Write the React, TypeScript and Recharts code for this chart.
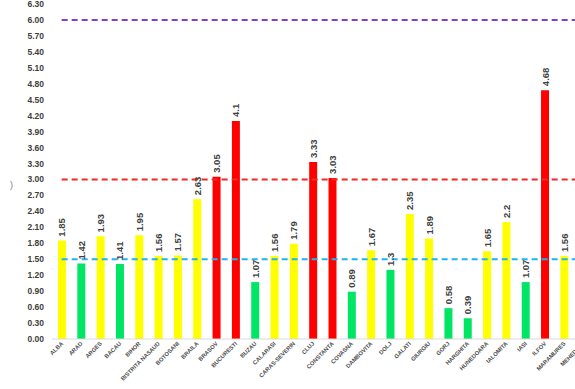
import React from "react";
import { ComposedChart, Bar, Line, XAxis, YAxis, Cell, LabelList } from "recharts";

const categories = [
  "ALBA", "ARAD", "ARGES", "BACAU", "BIHOR", "BISTRITA NASAUD", "BOTOSANI", "BRAILA",
  "BRASOV", "BUCURESTI", "BUZAU", "CALARASI", "CARAS-SEVERIN", "CLUJ", "CONSTANTA",
  "COVASNA", "DAMBOVITA", "DOLJ", "GALATI", "GIURGIU", "GORJ", "HARGHITA", "HUNEDOARA",
  "IALOMITA", "IASI", "ILFOV", "MARAMURES", "MEHEDINTI",
];
const values = [
  1.85, 1.42, 1.93, 1.41, 1.95, 1.56, 1.57, 2.63, 3.05, 4.1, 1.07, 1.56, 1.79, 3.33, 3.03,
  0.89, 1.67, 1.3, 2.35, 1.89, 0.58, 0.39, 1.65, 2.2, 1.07, 4.68, 1.56, 1.2,
];
const yTicks = [0, 0.3, 0.6, 0.9, 1.2, 1.5, 1.8, 2.1, 2.4, 2.7, 3.0, 3.3, 3.6, 3.9, 4.2, 4.5, 4.8, 5.1, 5.4, 5.7, 6.0, 6.3];
const thresholdLow = 1.5;
const thresholdHigh = 3.0;
const thresholdTop = 6.0;

const data = categories.map((c, i) => ({
  name: c,
  value: values[i],
  low: thresholdLow,
  high: thresholdHigh,
  top: thresholdTop,
}));

const colorFor = (v: number) => (v >= thresholdHigh ? "#FF0000" : v >= thresholdLow ? "#FFFF00" : "#00E564");

const XTick = (props: any) => {
  const { x, y, payload } = props;
  return (
    <text
      x={x + 2}
      y={y + 5}
      transform={`rotate(-45 ${x + 2} ${y + 5})`}
      textAnchor="end"
      fontSize={5.8}
      fontWeight="bold"
      fill="#505050"
      fontFamily="Liberation Sans, Arial, sans-serif"
    >
      {payload.value}
    </text>
  );
};

const ValueLabel = (props: any) => {
  const { x, y, width, value } = props;
  const cx = x + width / 2;
  const ty = y - 4;
  return (
    <text
      x={cx}
      y={ty}
      transform={`rotate(-90 ${cx} ${ty})`}
      textAnchor="start"
      dominantBaseline="central"
      fontSize={9.5}
      fontWeight="bold"
      fill="#404040"
      fontFamily="Liberation Sans, Arial, sans-serif"
    >
      {String(value)}
    </text>
  );
};

export default function App() {
  return (
    <div
      style={{
        position: "absolute",
        left: 0,
        top: 0,
        width: 575,
        height: 389,
        overflow: "hidden",
        background: "#fff",
      }}
    >
      <div
        style={{
          position: "absolute",
          left: 10,
          top: 180,
          fontSize: 9,
          color: "#808080",
          fontFamily: "Liberation Sans, Arial, sans-serif",
        }}
      >
        )
      </div>
      <ComposedChart
        width={600}
        height={389}
        data={data}
        margin={{ top: 4, right: 7, left: 0, bottom: 0 }}
      >
        <XAxis
          dataKey="name"
          interval={0}
          tickLine={false}
          tickSize={0}
          tickMargin={0}
          axisLine={{ stroke: "#d9d9d9" }}
          height={50}
          tick={<XTick />}
        />
        <YAxis
          domain={[0, 6.3]}
          ticks={yTicks}
          interval={0}
          width={52}
          axisLine={false}
          tickLine={false}
          tickFormatter={(v: number) => v.toFixed(2)}
          tick={{ fontSize: 8.5, fontWeight: "bold", fill: "#404040", fontFamily: "Liberation Sans, Arial, sans-serif" }}
        />
        <Bar dataKey="value" barSize={8} isAnimationActive={false}>
          {data.map((d, i) => (
            <Cell key={i} fill={colorFor(d.value)} />
          ))}
          <LabelList dataKey="value" content={<ValueLabel />} />
        </Bar>
        <Line dataKey="low" stroke="#1FB4F0" strokeWidth={2} strokeDasharray="6 4" dot={false} activeDot={false} isAnimationActive={false} />
        <Line dataKey="high" stroke="#F02828" strokeWidth={2} strokeDasharray="6 4" dot={false} activeDot={false} isAnimationActive={false} />
        <Line dataKey="top" stroke="#8040C8" strokeWidth={2} strokeDasharray="6 4" dot={false} activeDot={false} isAnimationActive={false} />
      </ComposedChart>
    </div>
  );
}
